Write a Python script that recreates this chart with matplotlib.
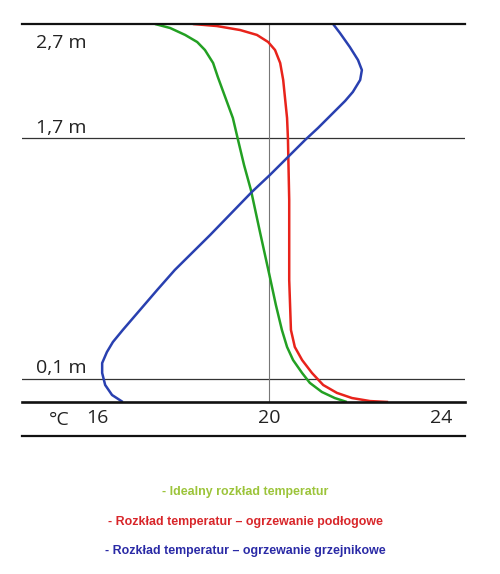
import numpy as np
import matplotlib
matplotlib.use("Agg")
import matplotlib.pyplot as plt
from matplotlib.scale import FuncScale

# ---- data ----
levels_m = [0.0, 0.1, 1.7, 2.7]            # reference heights (m)
level_labels = ["", "0,1 m", "1,7 m", "2,7 m"]
level_disp = [0.0, 23.3, 264.0, 378.0]     # schematic (non-linear) vertical spacing

temp_ticks = [16, 20, 24]
temp_labels = ["16", "20", "24"]

ideal_T = [17.35, 17.70, 18.05, 18.33, 18.51, 18.70, 18.81, 18.98, 19.16, 19.28,
           19.42, 19.58, 19.79, 20.02, 20.16, 20.30, 20.42, 20.56, 20.77, 20.95,
           21.23, 21.53, 21.81]
ideal_h = [2.700, 2.665, 2.604, 2.542, 2.472, 2.358, 2.235, 2.060, 1.875, 1.687,
           1.520, 1.354, 1.075, 0.776, 0.590, 0.424, 0.311, 0.224, 0.138, 0.082,
           0.043, 0.017, 0.0]

floor_T = [18.23, 18.79, 19.33, 19.72, 19.98, 20.14, 20.26, 20.33, 20.37, 20.42,
           20.44, 20.47, 20.47, 20.51, 20.60, 20.77, 21.00, 21.26, 21.58, 21.93,
           22.35, 22.77]
floor_h = [2.700, 2.682, 2.647, 2.604, 2.542, 2.472, 2.358, 2.209, 2.060, 1.875,
           1.700, 1.288, 0.756, 0.424, 0.311, 0.224, 0.138, 0.073, 0.039, 0.017,
           0.004, 0.0]

rad_T = [21.49, 21.65, 21.88, 22.07, 22.16, 22.12, 21.95, 21.77, 21.56, 21.35,
         21.14, 20.84, 20.02, 19.60, 18.63, 17.81, 17.40, 17.00, 16.60, 16.37,
         16.23, 16.12, 16.12, 16.19, 16.35, 16.60]
rad_h = [2.700, 2.621, 2.498, 2.384, 2.296, 2.209, 2.104, 2.025, 1.946, 1.867,
         1.788, 1.687, 1.454, 1.341, 1.055, 0.823, 0.690, 0.557, 0.424, 0.344,
         0.277, 0.204, 0.138, 0.073, 0.030, 0.0]

legend_texts = ["- Idealny rozkład temperatur",
                "- Rozkład temperatur – ogrzewanie podłogowe",
                "- Rozkład temperatur – ogrzewanie grzejnikowe"]

# ---- figure ----
W, H = 500, 574
fig = plt.figure(figsize=(W / 100, H / 100), dpi=100)
ax = fig.add_axes([22 / W, 1 - 402 / H, 443 / W, 378 / H])

def fwd(h):
    return np.interp(h, levels_m, level_disp)

def inv(d):
    return np.interp(d, level_disp, levels_m)

ax.set_yscale(FuncScale(ax, (fwd, inv)))
ax.set_ylim(0, 2.7)
ax.set_xlim(20 + (22 - 269) / 43, 20 + (465 - 269) / 43)

for s in ax.spines.values():
    s.set_visible(False)

# reference lines
ax.axhline(2.7, color="#111111", lw=1.6, zorder=3, clip_on=False)
ax.axhline(1.7, color="#333333", lw=0.9, zorder=1)
ax.axhline(0.1, color="#333333", lw=0.9, zorder=1)
ax.axhline(0.0, color="#111111", lw=1.9, zorder=3, clip_on=False)
ax.plot([0, 1], [-34 / 378, -34 / 378], transform=ax.transAxes,
        color="#111111", lw=1.6, clip_on=False)
ax.axvline(20, color="#777777", lw=0.8, zorder=1)

# curves
kw = dict(lw=1.8, zorder=2, solid_capstyle="butt", solid_joinstyle="round")
ax.plot(ideal_T, ideal_h, color="#23a023", **kw)
ax.plot(floor_T, floor_h, color="#e8231b", **kw)
ax.plot(rad_T, rad_h, color="#2940b0", **kw)

# ticks
ax.set_xticks(temp_ticks)
ax.set_xticklabels(temp_labels, fontsize=14, family="Open Sans", color="#222222")
ax.tick_params(axis="x", length=0, pad=5)
ax.set_yticks([])

# height labels
offsets = {"0,1 m": 4.2, "1,7 m": 3.8, "2,7 m": -17.5}
for lv, lab in zip(levels_m, level_labels):
    if not lab:
        continue
    ax.annotate(lab, xy=(14 / 443, lv), xycoords=("axes fraction", "data"),
                xytext=(0, offsets[lab]), textcoords="offset points",
                fontsize=14, family="Open Sans", color="#222222",
                ha="left", va="baseline")

ax.annotate("°C", xy=(27 / 443, 0), xycoords=("axes fraction", "data"),
            xytext=(0, -13), textcoords="offset points",
            fontsize=14, family="Open Sans", color="#222222",
            ha="left", va="center")

# legend texts
leg_colors = ["#9cc43a", "#d8262a", "#2a2aa6"]
leg_y = [492, 522, 551]
for t, c, y in zip(legend_texts, leg_colors, leg_y):
    fig.text(245 / W, 1 - y / H, t, color=c, fontsize=8.9, fontweight="bold",
             family="Liberation Sans", ha="center", va="center")

fig.savefig("out.png", dpi=100, facecolor="white")
